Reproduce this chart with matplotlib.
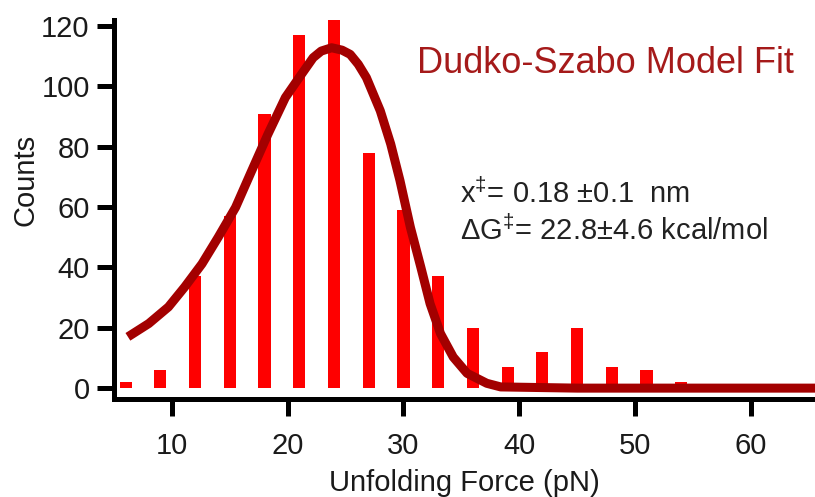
import matplotlib
matplotlib.use("Agg")
import matplotlib.pyplot as plt

plt.rcParams['font.family'] = ['Liberation Sans', 'DejaVu Sans']
plt.rcParams['mathtext.fontset'] = 'custom'
plt.rcParams['mathtext.rm'] = 'Liberation Sans'
plt.rcParams['mathtext.it'] = 'Liberation Sans'

# unfolding force histogram (bin centres in pN, counts per bin)
force_bins = [6, 9, 12, 15, 18, 21, 24, 27, 30, 33, 36, 39, 42, 45, 48, 51, 54]
counts = [2, 6, 37, 57, 91, 117, 122, 78, 59, 37, 20, 7, 12, 20, 7, 6, 2]

# Dudko-Szabo fit curve, sampled
fit_force = [6.2, 8.0, 9.7, 11.1, 12.6, 14.0, 15.5, 16.9, 18.3, 19.8, 21.1,
             22.2, 22.9, 23.8, 24.7, 25.4, 26.1, 26.8, 28.0, 28.9, 29.7, 30.6,
             31.5, 32.3, 33.2, 34.3, 35.5, 37.2, 38.4, 45.0, 55.0, 66.0]
fit_counts = [17.0, 21.4, 26.9, 33.5, 41.2, 50.0, 59.9, 72.1, 84.2, 96.3, 103.5,
              109.5, 111.7, 112.8, 112.0, 110.6, 107.3, 102.9, 91.9, 80.9, 68.8, 53.3,
              40.1, 28.0, 18.1, 10.3, 4.9, 1.6, 0.4, 0.0, 0.0, 0.0]

x_ticks = [10, 20, 30, 40, 50, 60]
y_ticks = [0, 20, 40, 60, 80, 100, 120]

fig = plt.figure(figsize=(8.15, 4.97), dpi=100)
ax = fig.add_axes([0.1399, 0.1972, 0.8601, 0.7626])

ax.bar(force_bins, counts, width=1.05, color='#fe0000', linewidth=0, zorder=2)
ax.plot(fit_force, fit_counts, color='#a30000', linewidth=6.5,
        solid_capstyle='butt', solid_joinstyle='round', zorder=3)

ax.set_xlim(5.0, 65.55)
ax.set_ylim(-3.6, 122)
ax.set_xticks(x_ticks)
ax.set_yticks(y_ticks)

for side in ['top', 'right']:
    ax.spines[side].set_visible(False)
for side in ['left', 'bottom']:
    ax.spines[side].set_linewidth(3.6)
    ax.spines[side].set_color('black')
    ax.spines[side].set_capstyle('projecting')

ax.tick_params(axis='both', which='major', direction='out', length=12.5,
               width=3.6, color='black', labelsize=21, labelcolor='#1a1a1a')
ax.tick_params(axis='y', pad=5)
ax.tick_params(axis='x', pad=11)

ax.set_xlabel('Unfolding Force (pN)', fontsize=21, color='#1a1a1a')
ax.set_ylabel('Counts', fontsize=21, color='#1a1a1a')
ax.xaxis.set_label_coords(0.5, -0.185)
ax.yaxis.set_label_coords(-0.107, 0.578)

fig.text(0.5113, 0.8537, 'Dudko-Szabo Model Fit', fontsize=26,
         color='#a51a1a', va='baseline', ha='left')
fig.text(0.5644, 0.5915, 'x$^{‡}$= 0.18 ±0.1  nm', fontsize=21,
         color='#222222', va='baseline', ha='left')
fig.text(0.5644, 0.5171, 'ΔG$^{‡}$= 22.8±4.6 kcal/mol', fontsize=21,
         color='#222222', va='baseline', ha='left')

fig.savefig('out.png', dpi=100)
